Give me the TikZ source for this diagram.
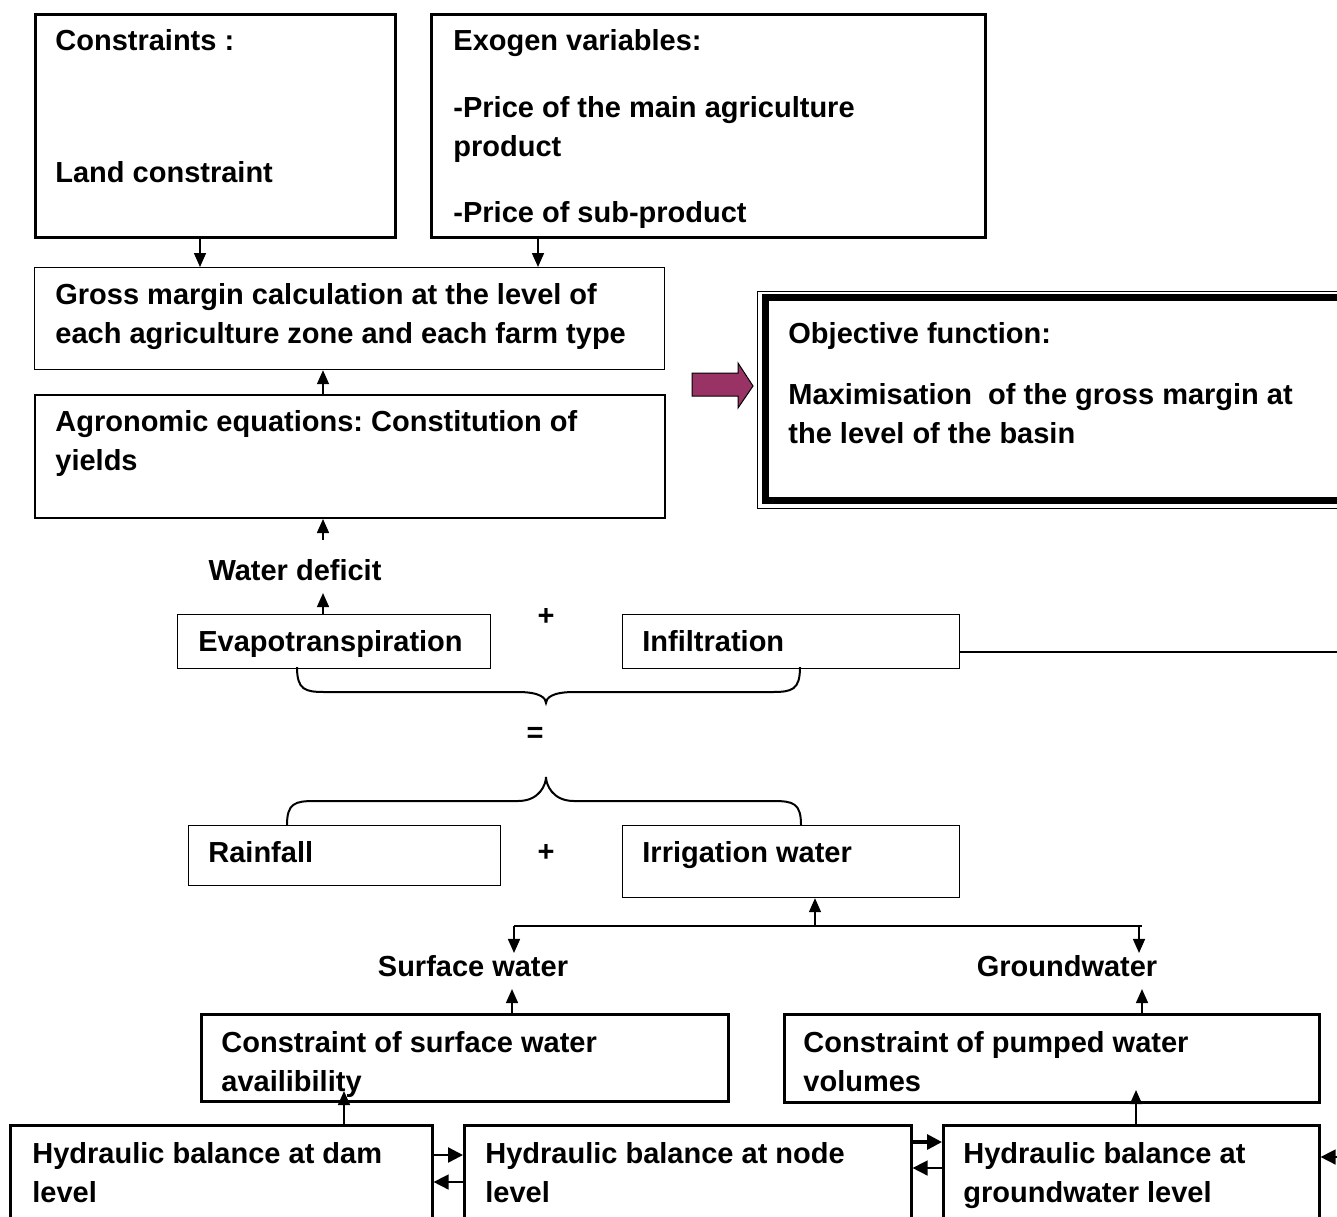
\documentclass[tikz,border=0pt]{standalone}
\usepackage{fontspec}
\setmainfont{Liberation Sans}
\usetikzlibrary{arrows.meta, calc}
\definecolor{plum}{HTML}{993366}
\tikzset{
	tri/.tip={Triangle[length=7pt, width=6pt]},
	bigtri/.tip={Triangle[length=7.5pt, width=7.5pt]},
	% frames are empty nodes, their text is set on top of them
	box/.style={draw, anchor=north west, inner sep=0, line width=#1},
	box/.default=0.6pt,
	txt/.style={anchor=north west, inner sep=0, align=left,
		font=\bfseries\fontsize{14.5pt}{19.5pt}\selectfont},
	lbl/.style={inner xsep=0, inner ysep=1pt,
		font=\bfseries\fontsize{14.5pt}{19.5pt}\selectfont},
	link/.style={-tri, line width=0.8pt},
	flow/.style={-bigtri, line width=#1},
	flow/.default=0.8pt,
	brace/.style={line width=1pt}
}
\frenchspacing

\begin{document}
\begin{tikzpicture}[x=0.5pt, y=-0.5pt]
	\useasboundingbox (0,0) rectangle (1337,1216);
	
	% Top row
	\node[box=1.3pt, minimum width=180pt, minimum height=111.5pt] (constr) at (34,13) {};
	\node[box=1.3pt, minimum width=277pt, minimum height=111.5pt] (exo) at (430,13) {};
	\node[txt] (constr-t) at (55,29) {Constraints :\\[46.5pt]Land constraint};
	\node[txt] (exo-t) at (453,29) {Exogen variables:\\[14pt]-Price of the main agriculture\\product\\[13.5pt]-Price of sub-product};
	
	% Margin and yields
	\node[box=0.6pt, minimum width=315pt, minimum height=51pt] (gross) at (34,267) {};
	\node[box=1pt, minimum width=315pt, minimum height=61.5pt] (agro) at (34,394) {};
	\node[txt] (gross-t) at (55,283) {Gross margin calculation at the level of\\each agriculture zone and each farm type};
	\node[txt] (agro-t) at (55,410) {Agronomic equations: Constitution of\\yields};
	
	% Objective function
	\node[box=0.7pt, minimum width=300pt, minimum height=108.5pt] (obj) at (757,291) {};
	\draw[line width=3.5pt] ([shift={(4.25pt,-3.25pt)}]obj.north west) rectangle ([shift={(-4.25pt,4.25pt)}]obj.south east);
	\node[txt] (obj-t) at (788,322) {Objective function:\\[11pt]Maximisation\ \ of the gross margin at\\the level of the basin};
	\draw[fill=plum, line width=0.5pt] (692,373) -- (738,373) -- (738,363) -- (753,386) -- (738,408) -- (738,396) -- (692,396) -- cycle;
	
	% Water balance
	\node[box, minimum width=156.5pt, minimum height=27pt] (evapo) at (177,614) {};
	\node[box, minimum width=168.5pt, minimum height=27pt] (infil) at (622,614) {};
	\node[box, minimum width=156pt, minimum height=30pt] (rain) at (188,825) {};
	\node[box, minimum width=168.5pt, minimum height=36pt] (irrig) at (622,825) {};
	\node[txt] (evapo-t) at (198,630) {Evapotranspiration};
	\node[txt] (infil-t) at (642,630) {Infiltration};
	\node[txt] (rain-t) at (208,841) {Rainfall};
	\node[txt] (irrig-t) at (642,841) {Irrigation water};
	\node[lbl] (deficit) at (295,570) {Water deficit};
	\node[lbl] (plus1) at (546,617) {+};
	\node[lbl] (eq) at (535,735) {=};
	\node[lbl] (plus2) at (546,853) {+};
	
	\draw[brace] (297,667) .. controls (297,690) and (305,692) .. (325,692) -- (518,692) .. controls (540,692) and (546,698) .. (546,703)
		.. controls (546,698) and (552,692) .. (574,692) -- (772,692) .. controls (792,692) and (800,690) .. (800,667);
	\draw[brace] (287,825) .. controls (287,803) and (295,801) .. (315,801) -- (518,801) .. controls (540,801) and (546,784) .. (546,777)
		.. controls (546,784) and (552,801) .. (574,801) -- (773,801) .. controls (793,801) and (801,803) .. (801,825);
	
	% Sources of irrigation water
	\node[lbl] (surf) at (473,966) {Surface water};
	\node[lbl] (ground) at (1067,966) {Groundwater};
	\node[box=1.5pt, minimum width=263.5pt, minimum height=43.5pt] (sbox) at (200,1013) {};
	\node[box=1.5pt, minimum width=267.5pt, minimum height=44pt] (pbox) at (783,1013) {};
	\node[txt] (sbox-t) at (221,1031) {Constraint of surface water\\availibility};
	\node[txt] (pbox-t) at (803,1031) {Constraint of pumped water\\volumes};
	
	% Hydraulic balances
	\node[box=1.3pt, minimum width=211pt, minimum height=55pt] (dam) at (9,1124) {};
	\node[box=1.3pt, minimum width=223.5pt, minimum height=55pt] (hnode) at (463,1124) {};
	\node[box=1.3pt, minimum width=188pt, minimum height=55pt] (gwbox) at (942,1124) {};
	\node[txt] (dam-t) at (32,1142) {Hydraulic balance at dam\\level};
	\node[txt] (hnode-t) at (485,1142) {Hydraulic balance at node\\level};
	\node[txt] (gw-t) at (963,1142) {Hydraulic balance at\\groundwater level};
	
	% Connectors
	\draw[link] (200,0 |- constr.south) -- (200,0 |- gross.north);
	\draw[link] (538,0 |- exo.south) -- (538,0 |- gross.north);
	\draw[link] (323,0 |- agro.north) -- (323,0 |- gross.south);
	\draw[link, shorten <=8.5pt] (323,0 |- deficit.north) -- (323,0 |- agro.south);
	\draw[link, shorten >=5pt] (323,0 |- evapo.north) -- (323,0 |- deficit.south);
	
	\coordinate (offR) at (1345,652);
	\draw[line width=0.8pt] (infil.east |- offR) -- (offR);
	
	\coordinate (teeL) at (514,926);
	\coordinate (teeR) at (1139,926);
	\draw[line width=0.8pt] (teeL) -- ([xshift=1.5pt]teeR);
	\draw[link] (815,0 |- teeL) -- (815,0 |- irrig.south);
	\draw[link] (teeL) -- (teeL |- surf.north);
	\draw[link] (teeR) -- (teeR |- ground.north);
	\draw[link, shorten >=5pt] (512,0 |- sbox.north) -- (512,0 |- surf.south);
	\draw[link, shorten >=5pt] (1142,0 |- pbox.north) -- (1142,0 |- ground.south);
	\draw[link, shorten >=-6pt] (344,0 |- dam.north) -- (344,0 |- sbox.south);
	\draw[link, shorten >=-7pt] (1136,0 |- gwbox.north) -- (1136,0 |- pbox.south);
	
	\draw[flow=1.2pt] (dam.east |- 0,1155) -- (hnode.west |- 0,1155);
	\draw[flow] (hnode.west |- 0,1182) -- (dam.east |- 0,1182);
	\draw[flow=1.6pt] (hnode.east |- 0,1142) -- (gwbox.west |- 0,1142);
	\draw[flow] (gwbox.west |- 0,1168) -- (hnode.east |- 0,1168);
	\coordinate (offB) at (1345,1157);
	\draw[flow] (offB) -- (gwbox.east |- offB);
\end{tikzpicture}
\end{document}
